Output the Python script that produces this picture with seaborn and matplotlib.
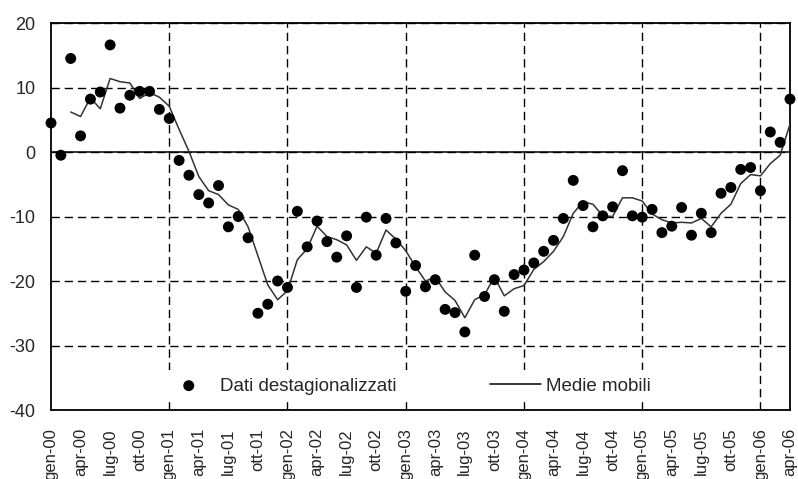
import numpy as np
import pandas as pd
import matplotlib
matplotlib.use("Agg")
import matplotlib.pyplot as plt
import seaborn as sns

# Month abbreviations (Italian) and years covered: gen-2000 .. apr-2006
mesi = ["gen", "feb", "mar", "apr", "mag", "giu",
        "lug", "ago", "set", "ott", "nov", "dic"]
anni = ["00", "01", "02", "03", "04", "05", "06"]

# Seasonally adjusted monthly values
dati = [4.5, -0.5, 14.5, 2.5, 8.2, 9.3, 16.6, 6.8, 8.8, 9.4, 9.4, 6.6,
        5.2, -1.3, -3.6, -6.6, -7.9, -5.2, -11.6, -10.0, -13.3, -25.0, -23.6, -20.0,
        -21.0, -9.2, -14.7, -10.7, -13.9, -16.3, -13.0, -21.0, -10.1, -16.0, -10.3, -14.1,
        -21.6, -17.6, -20.9, -19.8, -24.4, -24.9, -27.9, -16.0, -22.4, -19.8, -24.7, -19.0,
        -18.3, -17.2, -15.4, -13.7, -10.3, -4.4, -8.3, -11.6, -9.9, -8.5, -2.9, -9.9,
        -10.1, -8.9, -12.5, -11.5, -8.6, -12.9, -9.5, -12.5, -6.4, -5.5, -2.7, -2.4,
        -6.0, 3.1, 1.5, 8.2]

# Moving averages (first two months undefined)
medie = [np.nan, np.nan, 6.2, 5.5, 8.4, 6.7, 11.4, 10.9, 10.7, 8.3, 9.2, 8.5,
         7.1, 3.5, 0.1, -3.8, -6.0, -6.6, -8.2, -8.9, -11.6, -16.1, -20.6, -22.9,
         -21.5, -16.7, -15.0, -11.5, -13.1, -13.6, -14.4, -16.8, -14.7, -15.7, -12.1, -13.5,
         -15.3, -17.8, -20.0, -19.4, -21.7, -23.0, -25.7, -22.9, -22.1, -19.4, -22.3, -21.2,
         -20.7, -18.2, -17.0, -15.4, -13.1, -9.5, -7.7, -8.1, -9.9, -10.0, -7.1, -7.1,
         -7.6, -9.6, -10.5, -11.0, -10.9, -11.0, -10.3, -11.6, -9.5, -8.1, -4.9, -3.5,
         -3.7, -1.8, -0.5, 4.3]

etichette = [f"{m}-{a}" for a in anni for m in mesi][:len(dati)]
df = pd.DataFrame({"mese": np.arange(len(dati)), "dati": dati,
                   "medie": medie, "etichetta": etichette})

sns.set_style("white")
plt.rcParams["font.family"] = ["Liberation Sans", "DejaVu Sans"]
plt.rcParams["axes.unicode_minus"] = False

fig = plt.figure(figsize=(7.98, 4.79), dpi=100)
ax = fig.add_axes([51 / 798, 1 - 410 / 479, 739 / 798, 387 / 479])

sns.lineplot(data=df, x="mese", y="medie", color="#333333", linewidth=1.1,
             ax=ax, label="Medie mobili", zorder=3)
sns.scatterplot(data=df, x="mese", y="dati", color="black", s=62,
                edgecolor="none", linewidth=0, ax=ax, clip_on=False,
                label="Dati destagionalizzati", zorder=4)

ax.set_xlim(0, len(dati) - 1)
ax.set_ylim(-40, 20)
ax.set_yticks(range(-40, 21, 10))
ax.set_xticks(df["mese"][::3])
ax.set_xticklabels(df["etichetta"][::3], rotation=90, fontsize=12,
                   va="top", ha="center")
ax.tick_params(axis="y", labelsize=13, length=0, pad=11)
ax.tick_params(axis="x", length=0, pad=13)
ax.set_xlabel("")
ax.set_ylabel("")

# Dashed reference grid: horizontal every 10 points, vertical at each January
dash = (0, (6, 3.5))
ax.grid(axis="y", color="black", linestyle=dash, linewidth=1.0)
for gennaio in df["mese"][12::12]:
    ax.axvline(gennaio, color="black", linestyle=dash, linewidth=1.0, zorder=1)
ax.axhline(0, color="black", linewidth=1.1, zorder=2)

for s in ax.spines.values():
    s.set_visible(True)
    s.set_color("black")
    s.set_linewidth(1.3)

# Legend on an opaque white box, no border
handles, labels = ax.get_legend_handles_labels()
order = [labels.index("Dati destagionalizzati"), labels.index("Medie mobili")]
leg = ax.legend([handles[i] for i in order], [labels[i] for i in order],
                ncol=2, frameon=True, facecolor="white", edgecolor="none",
                framealpha=1, fancybox=False, loc="center left",
                bbox_to_anchor=(0.142, 0.062), handlelength=2.7,
                handletextpad=0.3, columnspacing=5.0, borderpad=0.4,
                borderaxespad=0, fontsize=13.5)
for h in leg.legend_handles:
    if hasattr(h, "set_color") and not hasattr(h, "get_offsets"):
        h.set_color("black")

fig.savefig("out.png", dpi=100)
